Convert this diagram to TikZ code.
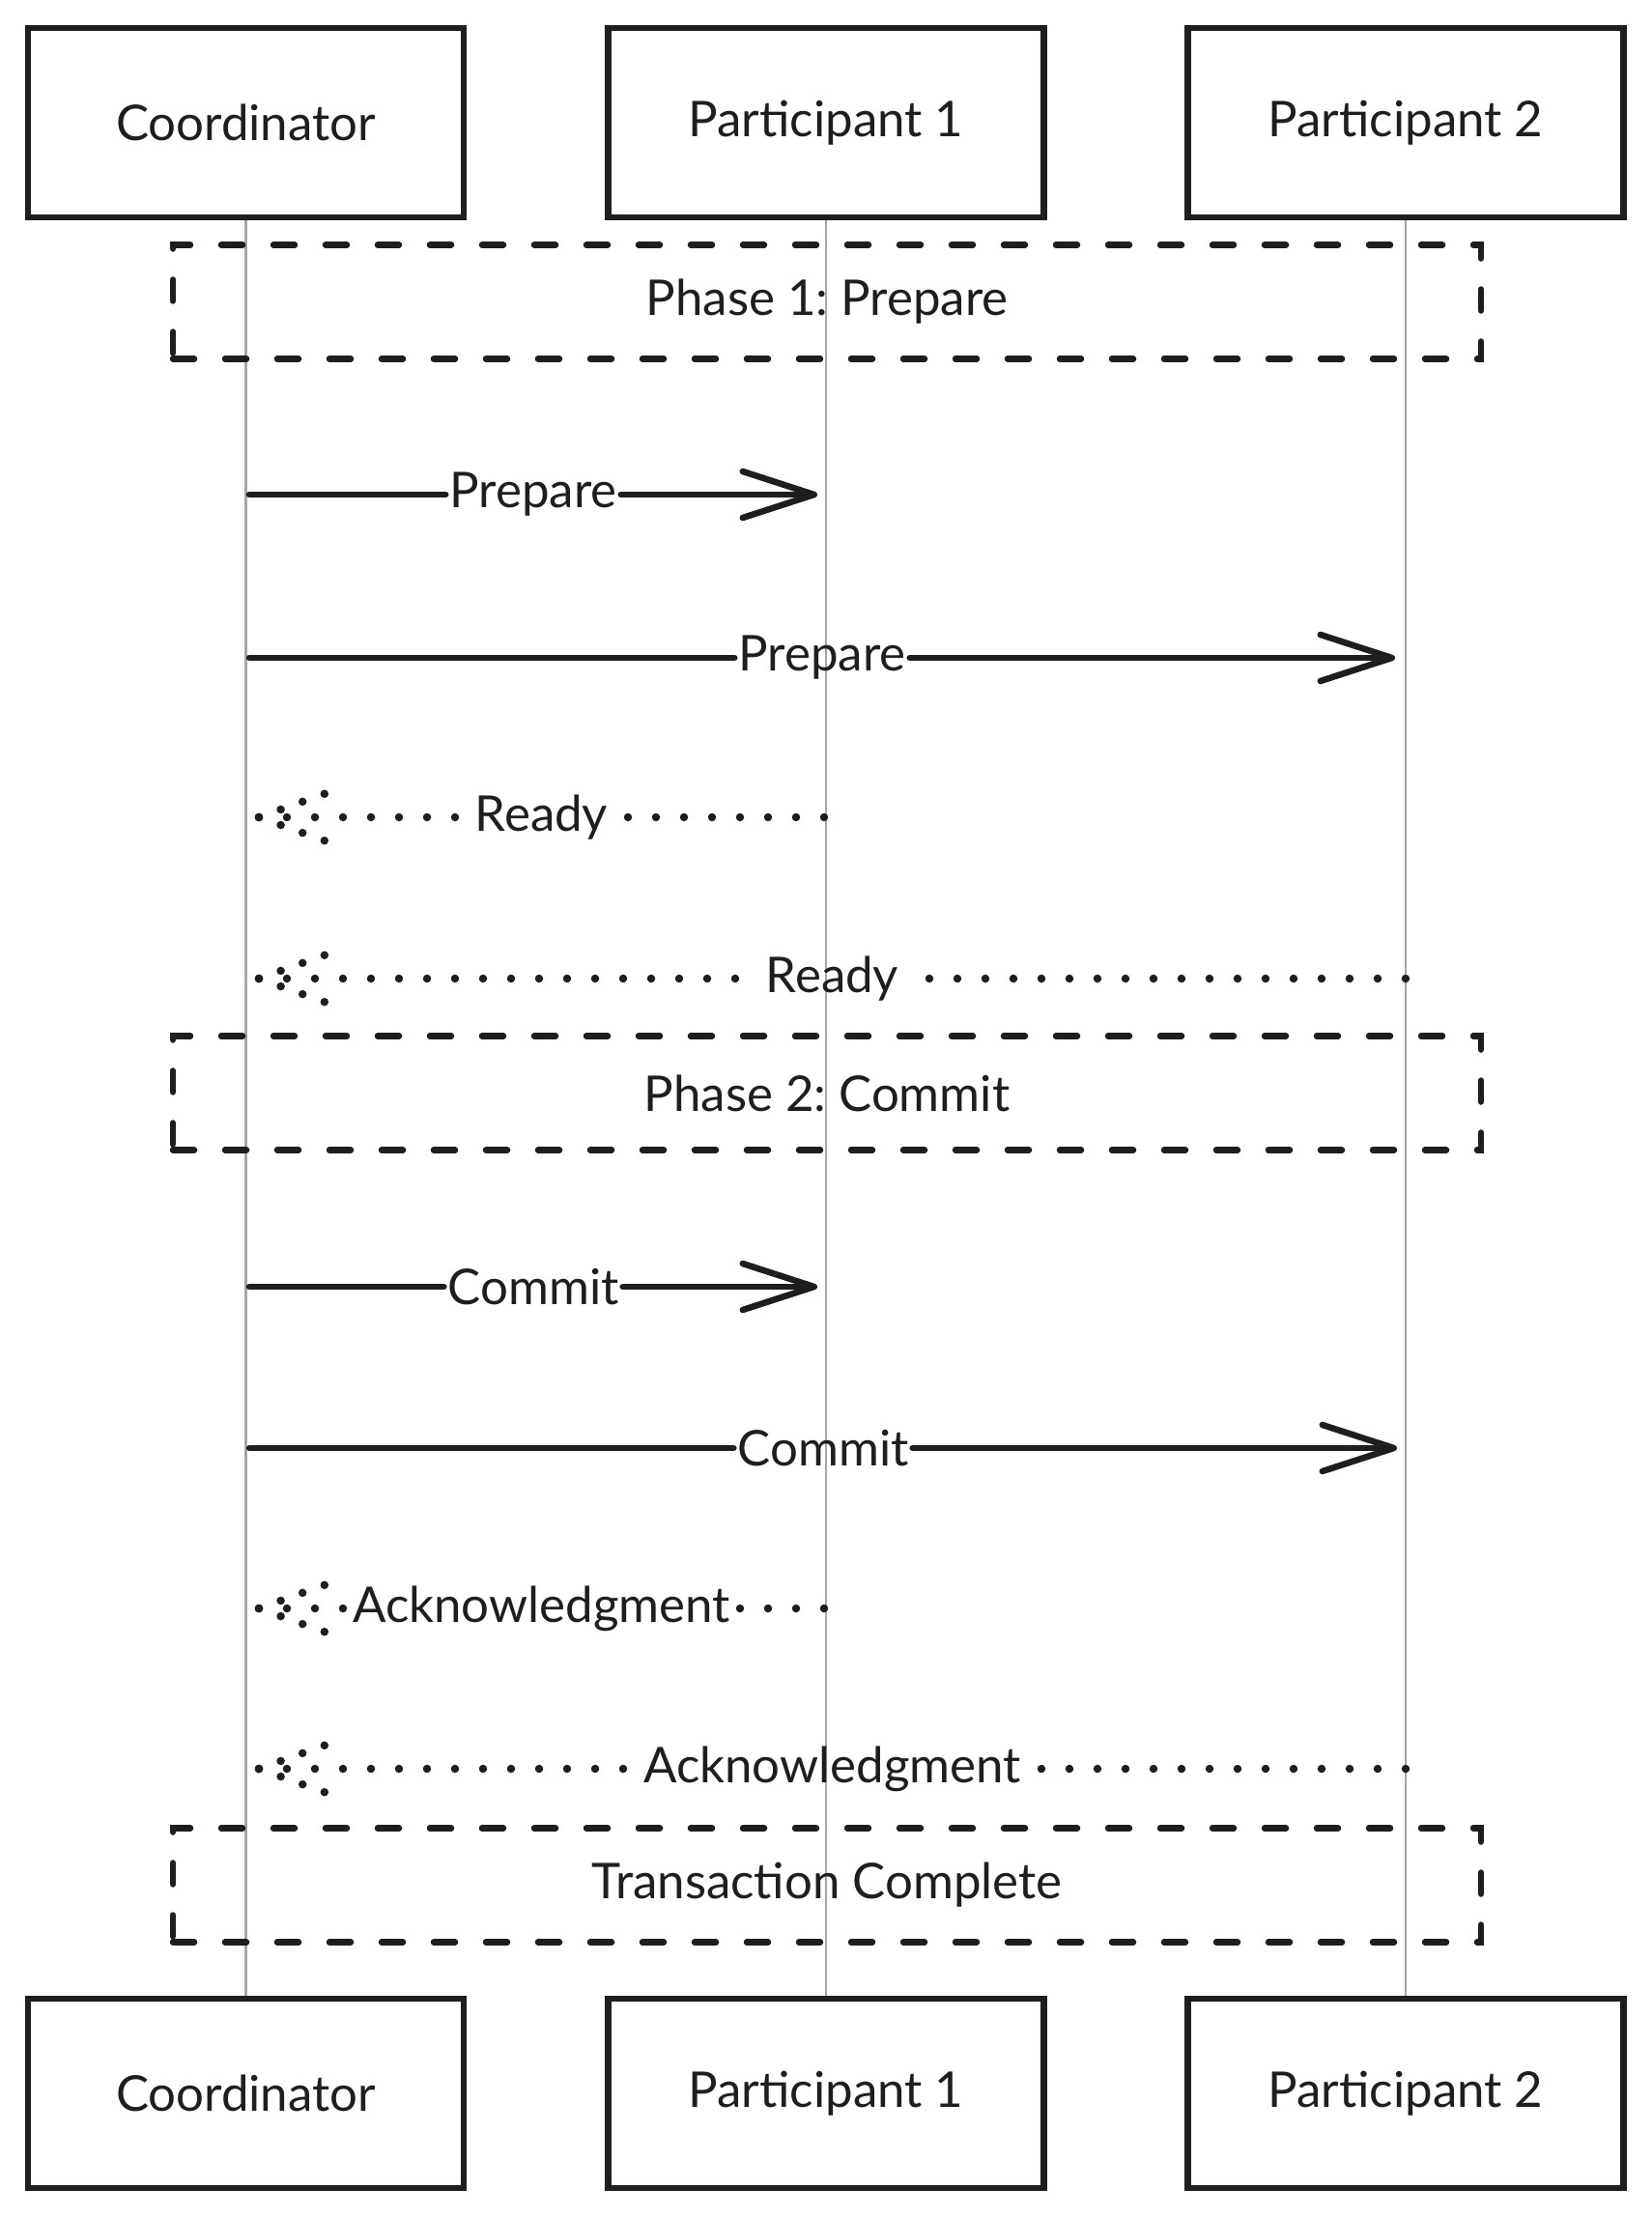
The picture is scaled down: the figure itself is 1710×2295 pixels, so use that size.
\documentclass[tikz,border=0pt]{standalone}
\usepackage{fontspec}
\setmainfont{Lato}
\usetikzlibrary{arrows.meta}
\definecolor{ink}{HTML}{1E1E1E}
\definecolor{life}{HTML}{A6A6A6}

\begin{document}
\frenchspacing
\begin{tikzpicture}[x=1pt,y=-1pt,
  font=\fontsize{51}{60}\selectfont,
  actor/.style={draw=ink, fill=white, line width=6.5pt, minimum width=451pt,
    minimum height=196pt, inner sep=0pt, text=ink},
  lifeline/.style={draw=life, line width=2.5pt},
  phasebox/.style={draw=ink, line width=6.5pt, line cap=round,
    dash pattern=on 22pt off 32pt, minimum width=1354pt,
    minimum height=118pt, inner sep=0pt, text=ink},
  call/.style={draw=ink, line width=6.5pt, line cap=round},
  callhead/.style={call, -{Straight Barb[length=74pt, width=48pt, round]}},
  reply/.style={draw=ink, line width=8.5pt, line cap=round,
    dash pattern=on 0pt off 29pt},
  replyhead/.style={draw=ink, line width=8.5pt, line cap=round,
    dash pattern=on 0pt off 24pt},
  msg/.style={inner sep=4pt, text=ink},
]
% page
\fill[white] (0,0) rectangle (1710,2295);
\useasboundingbox (0,0) rectangle (1710,2295);

% participants (top and bottom)
\node[actor] (ct) at (254.5,127) {Coordinator};
\node[actor] (pat) at (855,127) {Participant 1};
\node[actor] (pbt) at (1455,127) {Participant 2};
\node[actor] (cb) at (254.5,2167) {Coordinator};
\node[actor] (pab) at (855,2167) {Participant 1};
\node[actor] (pbb) at (1455,2167) {Participant 2};

% lifelines
\draw[lifeline] (ct.south) -- (cb.north);
\draw[lifeline] (pat.south) -- (pab.north);
\draw[lifeline] (pbt.south) -- (pbb.north);

% redraw boxes over lifeline ends
\node[actor] at (ct) {Coordinator};
\node[actor] at (pat) {Participant 1};
\node[actor] at (pbt) {Participant 2};
\node[actor] at (cb) {Coordinator};
\node[actor] at (pab) {Participant 1};
\node[actor] at (pbb) {Participant 2};

% phase notes
\node[phasebox] (ph1) at (856,312.5) {Phase 1: Prepare};
\node[phasebox] (ph2) at (856,1131.5) {Phase 2: Commit};
\node[phasebox] (ph3) at (856,1951.5) {Transaction Complete};

% message end points
\coordinate (m1s) at (258,512);  \coordinate (m1e) at (846,512);
\coordinate (m2s) at (258,681);  \coordinate (m2e) at (1444,681);
\coordinate (m3s) at (853,846);  \coordinate (m3e) at (268,846);
\coordinate (m4s) at (1455,1013); \coordinate (m4e) at (268,1013);
\coordinate (m5s) at (258,1332); \coordinate (m5e) at (846,1332);
\coordinate (m6s) at (258,1499); \coordinate (m6e) at (1446,1499);
\coordinate (m7s) at (853,1665); \coordinate (m7e) at (268,1665);
\coordinate (m8s) at (1455,1831); \coordinate (m8e) at (268,1831);

% labels
\path (m1s) -- (m1e) node[msg, pos=0.5] (l1) {Prepare};
\path (m2s) -- (m2e) node[msg, pos=0.5] (l2) {Prepare};
\path (m3s) -- (m3e) node[msg, pos=0.5] (l3) {Ready};
\path (m4s) -- (m4e) node[msg, pos=0.5] (l4) {Ready};
\path (m5s) -- (m5e) node[msg, pos=0.5] (l5) {Commit};
\path (m6s) -- (m6e) node[msg, pos=0.5] (l6) {Commit};
\path (m7s) -- (m7e) node[msg, pos=0.5] (l7) {Acknowledgment};
\path (m8s) -- (m8e) node[msg, pos=0.5] (l8) {Acknowledgment};

% calls
\draw[call] (m1s) -- (l1.west);  \draw[callhead] (l1.east) -- (m1e);
\draw[call] (m2s) -- (l2.west);  \draw[callhead] (l2.east) -- (m2e);
\draw[call] (m5s) -- (l5.west);  \draw[callhead] (l5.east) -- (m5e);
\draw[call] (m6s) -- (l6.west);  \draw[callhead] (l6.east) -- (m6e);

% replies
\foreach \i in {3,4,7,8} {
  \draw[reply] (m\i s) -- (l\i.east);
  \draw[reply] (m\i e) -- (l\i.west);
  \draw[replyhead] (m\i e) -- ++(70,-25);
  \draw[replyhead] (m\i e) -- ++(70,25);
}
\end{tikzpicture}
\end{document}
